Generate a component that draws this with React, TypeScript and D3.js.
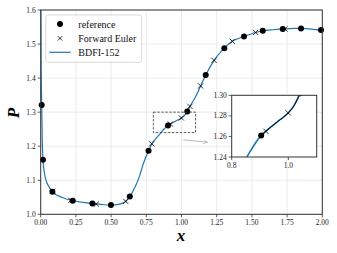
import React from 'react';
import * as d3 from 'd3';

// reference solution (dots)
const refX = [0.007, 0.016, 0.083, 0.227, 0.367, 0.499, 0.633, 0.766, 0.904, 1.041, 1.172, 1.304, 1.444, 1.577, 1.719, 1.849, 1.991];
const refY = [1.321, 1.160, 1.066, 1.040, 1.032, 1.027, 1.052, 1.187, 1.261, 1.302, 1.409, 1.488, 1.522, 1.539, 1.544, 1.546, 1.541];

// forward euler (crosses)
const eulerX = [0.085, 0.215, 0.395, 0.604, 0.788, 0.921, 0.999, 1.060, 1.136, 1.231, 1.361, 1.527, 1.735];
const eulerY = [1.068, 1.041, 1.030, 1.038, 1.207, 1.265, 1.283, 1.317, 1.377, 1.452, 1.508, 1.534, 1.544];

// BDFI-152 curve
const bdfX = [0.0, 0.003, 0.007, 0.011, 0.016, 0.025, 0.04, 0.06, 0.083, 0.15, 0.227, 0.30, 0.367, 0.45, 0.50, 0.56, 0.60, 0.633, 0.67, 0.70, 0.73, 0.766, 0.79, 0.83, 0.86, 0.904, 0.92, 0.96, 1.0, 1.02, 1.041, 1.06, 1.10, 1.136, 1.172, 1.231, 1.304, 1.361, 1.444, 1.527, 1.577, 1.65, 1.719, 1.80, 1.849, 1.92, 2.0];
const bdfY = [1.75, 1.45, 1.321, 1.22, 1.160, 1.125, 1.097, 1.080, 1.066, 1.050, 1.040, 1.035, 1.032, 1.028, 1.027, 1.030, 1.037, 1.052, 1.080, 1.110, 1.150, 1.187, 1.207, 1.228, 1.243, 1.261, 1.265, 1.274, 1.283, 1.290, 1.302, 1.317, 1.345, 1.377, 1.409, 1.452, 1.488, 1.508, 1.522, 1.534, 1.539, 1.542, 1.544, 1.546, 1.546, 1.544, 1.540];

const xTicks = [0, 0.25, 0.5, 0.75, 1.0, 1.25, 1.5, 1.75, 2.0];
const yTicks = [1.0, 1.1, 1.2, 1.3, 1.4, 1.5, 1.6];
const insetXTicks = [0.8, 1.0];
const insetYTicks = [1.24, 1.26, 1.28, 1.30];
const legendLabels = ['reference', 'Forward Euler', 'BDFI-152'];

const blue = '#1f77b4';
const font = '"Liberation Serif", "DejaVu Serif", serif';

const Cross = ({ cx, cy, s = 2.6 }: { cx: number; cy: number; s?: number }) => (
  <path d={`M${cx - s},${cy - s}L${cx + s},${cy + s}M${cx - s},${cy + s}L${cx + s},${cy - s}`} stroke="#000" strokeWidth={0.8} fill="none" />
);

export default function App() {
  const x = d3.scaleLinear().domain([0, 2]).range([40.7, 322.3]);
  const y = d3.scaleLinear().domain([1.0, 1.6]).range([214.3, 10]);

  const ix = d3.scaleLinear().domain([0.8, 1.1]).range([231.7, 316.7]);
  const iy = d3.scaleLinear().domain([1.24, 1.30]).range([157, 95.3]);

  const pts = bdfX.map((v, i) => [v, bdfY[i]] as [number, number]);
  const line = d3.line<[number, number]>().x(d => x(d[0])).y(d => y(d[1])).curve(d3.curveMonotoneX);
  const iline = d3.line<[number, number]>().x(d => ix(d[0])).y(d => iy(d[1])).curve(d3.curveMonotoneX);
  const refLinePts = pts.filter(d => d[0] >= 0.9);

  const [x0, x1] = x.range();
  const [y0, y1] = y.range();

  return (
    <svg width={337} height={253} style={{ position: 'absolute', left: 0, top: 0, background: '#fff' }} fontFamily={font}>
      <defs>
        <clipPath id="main"><rect x={x0} y={y1} width={x1 - x0} height={y0 - y1} /></clipPath>
        <clipPath id="ins"><rect x={231.7} y={95.3} width={85} height={61.7} /></clipPath>
        <marker id="arr" markerWidth={6} markerHeight={6} refX={5} refY={3} orient="auto">
          <path d="M0,0.8L5,3L0,5.2" fill="none" stroke="#aaa" strokeWidth={0.8} />
        </marker>
      </defs>

      {/* grid */}
      {xTicks.map(t => <line key={'gx' + t} x1={x(t)} x2={x(t)} y1={y1} y2={y0} stroke="#e6e6e6" strokeWidth={0.8} />)}
      {yTicks.map(t => <line key={'gy' + t} x1={x0} x2={x1} y1={y(t)} y2={y(t)} stroke="#e6e6e6" strokeWidth={0.8} />)}

      {/* curve + markers */}
      <g clipPath="url(#main)">
        <path d={line(pts) || ''} fill="none" stroke={blue} strokeWidth={1.2} />
      </g>
      {refX.map((v, i) => <circle key={'r' + i} cx={x(v)} cy={y(refY[i])} r={3} fill="#000" />)}
      {eulerX.map((v, i) => <Cross key={'e' + i} cx={x(v)} cy={y(eulerY[i])} />)}

      {/* zoom box + arrow */}
      <rect x={x(0.8)} y={y(1.30)} width={x(1.1) - x(0.8)} height={y(1.24) - y(1.30)} fill="none" stroke="#333" strokeWidth={0.8} strokeDasharray="2.5,1.5" />
      <line x1={183.3} y1={139.8} x2={207.5} y2={142.3} stroke="#aaa" strokeWidth={0.8} markerEnd="url(#arr)" />

      {/* frame */}
      <rect x={x0} y={y1} width={x1 - x0} height={y0 - y1} fill="none" stroke="#333" strokeWidth={1} />

      {/* ticks */}
      {xTicks.map(t => (
        <g key={'xt' + t}>
          <line x1={x(t)} x2={x(t)} y1={y0} y2={y0 + 3} stroke="#333" strokeWidth={0.8} />
          <text x={x(t)} y={y0 + 11} fontSize={7.5} textAnchor="middle" fill="#222">{t.toFixed(2)}</text>
        </g>
      ))}
      {yTicks.map(t => (
        <g key={'yt' + t}>
          <line x1={x0 - 3} x2={x0} y1={y(t)} y2={y(t)} stroke="#333" strokeWidth={0.8} />
          <text x={x0 - 5} y={y(t) + 2.6} fontSize={7.5} textAnchor="end" fill="#222">{t.toFixed(1)}</text>
        </g>
      ))}

      {/* axis labels */}
      <text x={181} y={241} fontSize={17} fontStyle="italic" fontWeight="bold" textAnchor="middle">x</text>
      <text transform="translate(19,113) rotate(-90)" fontSize={17} fontStyle="italic" fontWeight="bold" textAnchor="middle">P</text>

      {/* legend */}
      <rect x={45.7} y={15} width={96} height={47.3} rx={2} fill="#fff" fillOpacity={0.85} stroke="#d0d0d0" strokeWidth={0.8} />
      <circle cx={60} cy={24} r={3} fill="#000" />
      <Cross cx={60} cy={38.3} s={2.2} />
      <line x1={49.3} x2={70.7} y1={52.3} y2={52.3} stroke={blue} strokeWidth={1.2} />
      {legendLabels.map((l, i) => (
        <text key={l} x={78.3} y={27.5 + i * 14.2} fontSize={10} fill="#111">{l}</text>
      ))}

      {/* inset */}
      <rect x={231.7} y={95.3} width={85} height={61.7} fill="#fff" />
      <g clipPath="url(#ins)">
        <path d={iline(pts) || ''} fill="none" stroke={blue} strokeWidth={1.6} />
        <path d={iline(refLinePts) || ''} fill="none" stroke="#000" strokeWidth={0.9} />
        {refX.map((v, i) => <circle key={'ir' + i} cx={ix(v)} cy={iy(refY[i])} r={3} fill="#000" />)}
        {eulerX.map((v, i) => <Cross key={'ie' + i} cx={ix(v)} cy={iy(eulerY[i])} />)}
      </g>
      <rect x={231.7} y={95.3} width={85} height={61.7} fill="none" stroke="#333" strokeWidth={1} />
      {insetXTicks.map(t => (
        <g key={'ixt' + t}>
          <line x1={ix(t)} x2={ix(t)} y1={157} y2={160} stroke="#333" strokeWidth={0.8} />
          <text x={ix(t)} y={168} fontSize={7.5} textAnchor="middle" fill="#222">{t.toFixed(1)}</text>
        </g>
      ))}
      {insetYTicks.map(t => (
        <g key={'iyt' + t}>
          <line x1={228.7} x2={231.7} y1={iy(t)} y2={iy(t)} stroke="#333" strokeWidth={0.8} />
          <text x={226.7} y={iy(t) + 2.6} fontSize={7.5} textAnchor="end" fill="#222">{t.toFixed(2)}</text>
        </g>
      ))}
    </svg>
  );
}
